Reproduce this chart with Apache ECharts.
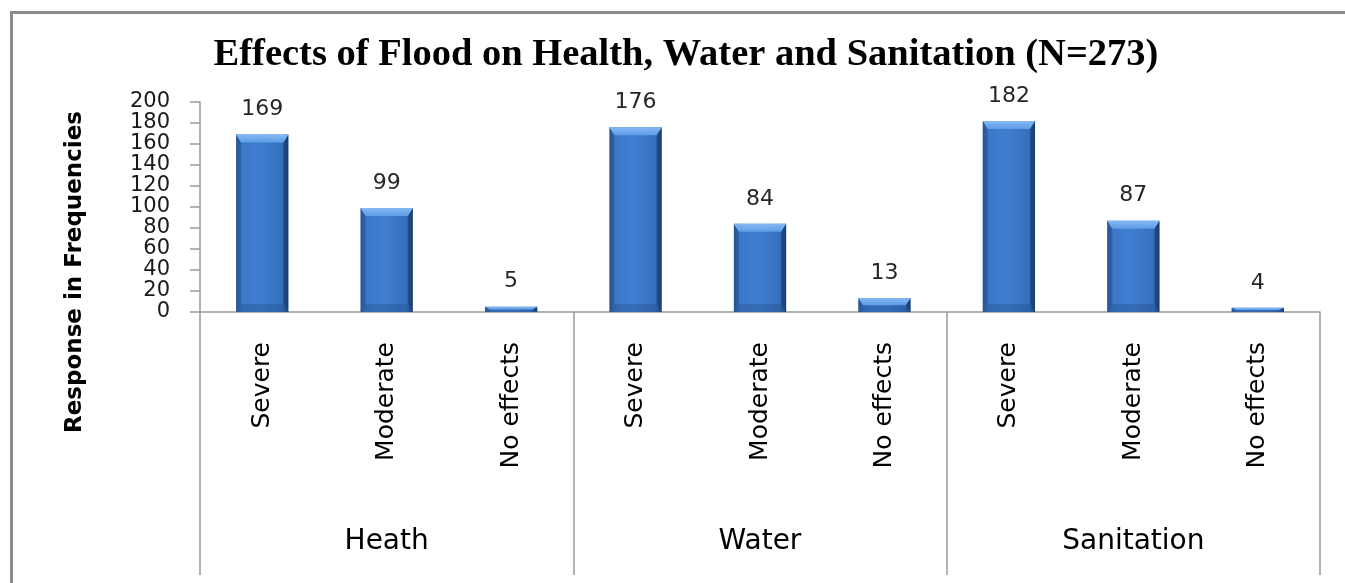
<!DOCTYPE html>
<html>
<head>
<meta charset="utf-8">
<title>Effects of Flood on Health, Water and Sanitation</title>
<script src="https://cdn.jsdelivr.net/npm/echarts@6/dist/echarts.min.js"></script>
<style>
  html, body { margin: 0; padding: 0; background: #ffffff; }
  #chart { width: 1345px; height: 583px; }
</style>
</head>
<body>
<div id="chart"></div>
<script>
// Response levels shown under each group
const levels = ['Severe', 'Moderate', 'No effects',
                'Severe', 'Moderate', 'No effects',
                'Severe', 'Moderate', 'No effects'];
// Group names along the bottom
const groups = ['Heath', 'Water', 'Sanitation'];
// Frequencies per level, group by group
const frequencies = [169, 99, 5, 176, 84, 13, 182, 87, 4];
// Value axis ticks
const yMin = 0;
const yMax = 200;
const yStep = 20;

const chart = echarts.init(document.getElementById('chart'), null, { renderer: 'canvas' });

const barData = frequencies.map(function (v, i) { return [i, v]; });

// Bevelled column: body with side shading, light top bevel, soft foot
function renderBar(params, api) {
  const idx = api.value(0);
  const val = api.value(1);
  const top = api.coord([idx, val]);
  const base = api.coord([idx, 0]);
  const bw = api.size([1, 0])[0] * 0.42;
  const x0 = top[0] - bw / 2;
  const y0 = top[1];
  const h = base[1] - top[1];
  const bev = Math.min(8, h / 2);
  const side = Math.min(5, bw / 2);

  const bodyFill = new echarts.graphic.LinearGradient(0, 0, 1, 0, [
    { offset: 0, color: '#2d5fa3' },
    { offset: 0.12, color: '#3c78c8' },
    { offset: 0.45, color: '#407ed0' },
    { offset: 0.88, color: '#3670bd' },
    { offset: 1, color: '#244b82' }
  ]);
  const topFill = new echarts.graphic.LinearGradient(0, 0, 0, 1, [
    { offset: 0, color: '#84b9f3' },
    { offset: 1, color: '#5e9ce6' }
  ]);

  const children = [
    {
      type: 'rect',
      shape: { x: x0, y: y0, width: bw, height: h },
      style: { fill: bodyFill }
    },
    {
      type: 'polygon',
      shape: { points: [[x0, y0 + h], [x0 + side, y0 + h - bev], [x0 + bw - side, y0 + h - bev], [x0 + bw, y0 + h]] },
      style: { fill: 'rgba(20,50,95,0.22)' }
    },
    {
      type: 'polygon',
      shape: { points: [[x0, y0], [x0 + side, y0 + bev], [x0 + side, y0 + h - bev], [x0, y0 + h]] },
      style: { fill: 'rgba(25,60,110,0.3)' }
    },
    {
      type: 'polygon',
      shape: { points: [[x0 + bw, y0], [x0 + bw - side, y0 + bev], [x0 + bw - side, y0 + h - bev], [x0 + bw, y0 + h]] },
      style: { fill: 'rgba(15,40,80,0.42)' }
    },
    {
      type: 'polygon',
      shape: { points: [[x0, y0], [x0 + bw, y0], [x0 + bw - side, y0 + bev], [x0 + side, y0 + bev]] },
      style: { fill: topFill }
    },
    {
      type: 'text',
      style: {
        x: top[0],
        y: y0 - 25,
        text: String(val),
        fill: '#262626',
        font: '22px "DejaVu Sans", sans-serif',
        align: 'center',
        verticalAlign: 'middle'
      }
    }
  ];
  return { type: 'group', children: children };
}

const option = {
  backgroundColor: '#ffffff',
  animation: false,
  title: {
    text: 'Effects of Flood on Health, Water and Sanitation (N=273)',
    left: 681,
    top: 31,
    textAlign: 'center',
    textStyle: {
      fontFamily: '"Liberation Serif", "Times New Roman", serif',
      fontWeight: 'bold',
      fontSize: 38.5,
      color: '#000000'
    }
  },
  graphic: [
    {
      type: 'rect',
      left: 9,
      top: 10,
      shape: { x: 0, y: 0, width: 1400, height: 700 },
      style: { fill: 'none', stroke: '#8c8c8c', lineWidth: 3 },
      silent: true
    },
    {
      type: 'text',
      x: 75,
      y: 272,
      rotation: Math.PI / 2,
      style: {
        text: 'Response in Frequencies',
        font: 'bold 23px "DejaVu Sans", sans-serif',
        fill: '#000000',
        align: 'center',
        verticalAlign: 'middle'
      }
    }
  ],
  grid: {
    left: 200,
    right: 25,
    top: 102,
    bottom: 271,
    containLabel: false
  },
  xAxis: [
    {
      type: 'category',
      data: levels,
      position: 'bottom',
      axisLine: { show: true, lineStyle: { color: '#9a9a9a', width: 1.5 } },
      axisTick: { show: false },
      axisLabel: {
        rotate: 90,
        margin: 30,
        interval: 0,
        fontFamily: '"DejaVu Sans", sans-serif',
        fontSize: 25,
        color: '#000000'
      },
      splitLine: { show: false }
    },
    {
      type: 'category',
      data: groups,
      position: 'bottom',
      offset: 0,
      axisLine: { show: false },
      axisTick: {
        show: true,
        length: 263,
        inside: false,
        alignWithLabel: false,
        lineStyle: { color: '#9a9a9a', width: 1.5 }
      },
      axisLabel: {
        margin: 216,
        interval: 0,
        fontFamily: '"DejaVu Sans", sans-serif',
        fontSize: 28,
        color: '#000000'
      },
      splitLine: { show: false }
    }
  ],
  yAxis: {
    type: 'value',
    min: yMin,
    max: yMax,
    interval: yStep,
    axisLine: { show: true, lineStyle: { color: '#9a9a9a', width: 1.5 } },
    axisTick: { show: true, inside: false, length: 10, lineStyle: { color: '#9a9a9a', width: 1.5 } },
    axisLabel: {
      margin: 30,
      showMinLabel: true,
      showMaxLabel: true,
      hideOverlap: false,
      fontFamily: '"DejaVu Sans", sans-serif',
      fontSize: 21,
      lineHeight: 17,
      color: '#1a1a1a'
    },
    splitLine: { show: false }
  },
  series: [
    {
      type: 'custom',
      xAxisIndex: 0,
      yAxisIndex: 0,
      renderItem: renderBar,
      encode: { x: 0, y: 1 },
      data: barData,
      clip: false
    }
  ]
};

chart.setOption(option);
</script>
</body>
</html>
